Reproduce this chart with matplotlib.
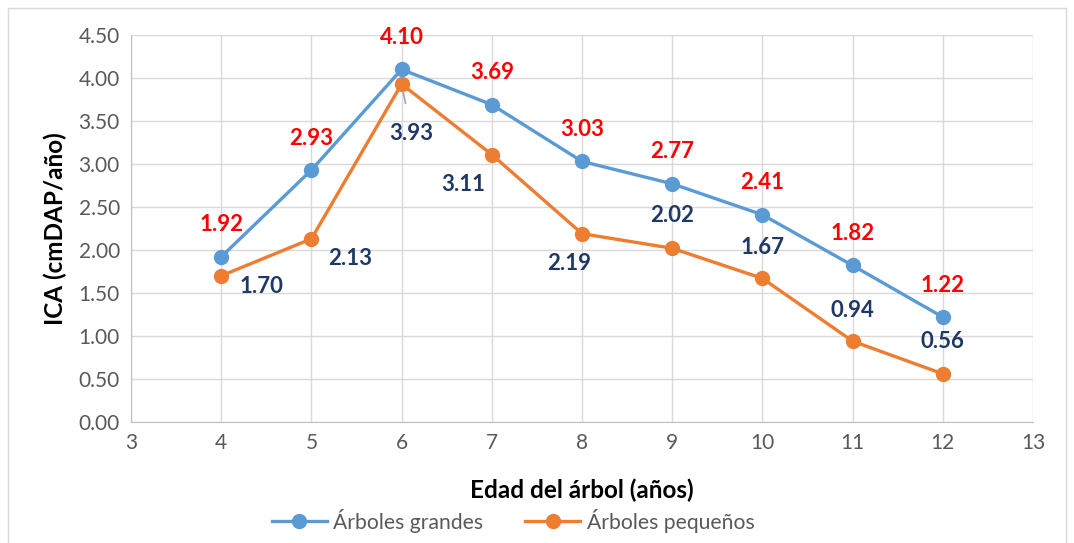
import matplotlib.pyplot as plt
from matplotlib.patches import Rectangle

# datos
edad = [4, 5, 6, 7, 8, 9, 10, 11, 12]
grandes = [1.92, 2.93, 4.10, 3.69, 3.03, 2.77, 2.41, 1.82, 1.22]
pequenos = [1.70, 2.13, 3.93, 3.11, 2.19, 2.02, 1.67, 0.94, 0.56]

# desplazamientos de las etiquetas (pixeles)
off_g = [(0, 32)] * 9
off_p = [(40, -11), (39, -20), (10, -49), (-29, -30), (-13, -30), (0, 33), (0, 31), (0, 31), (0, 32)]

plt.rcParams['font.family'] = ['Lato', 'DejaVu Sans']

fig = plt.figure(figsize=(10.74, 5.43), dpi=100)
ax = fig.add_axes([131/1074, 1 - 422/543, (1033 - 131)/1074, (422 - 35)/543])

ax.plot(edad, grandes, color='#5B9BD5', lw=2.4, marker='o', ms=10, label='Árboles grandes', zorder=3)
ax.plot(edad, pequenos, color='#ED7D31', lw=2.4, marker='o', ms=10, label='Árboles pequeños', zorder=3)

for x, y, o in zip(edad, grandes, off_g):
    ax.annotate(f'{y:.2f}', (x, y), xytext=o, textcoords='offset pixels',
                ha='center', va='center', color='#FF0000', fontsize=16, fontweight='bold')
for i, (x, y, o) in enumerate(zip(edad, pequenos, off_p)):
    props = None
    if i == 2:
        props = dict(arrowstyle='-', color='#A6A6A6', lw=1.2, shrinkA=12, shrinkB=6)
    ax.annotate(f'{y:.2f}', (x, y), xytext=o, textcoords='offset pixels',
                ha='center', va='center', color='#1F3864', fontsize=16, fontweight='bold',
                arrowprops=props)

ax.set_xlim(3, 13)
ax.set_ylim(0, 4.5)
ax.set_xticks(range(3, 14))
ax.set_yticks([i * 0.5 for i in range(10)])
ax.set_yticklabels([f'{i * 0.5:.2f}' for i in range(10)])
ax.grid(True, color='#D9D9D9', lw=1)
ax.set_axisbelow(True)
for s in ['top', 'right']:
    ax.spines[s].set_visible(False)
for s in ['left', 'bottom']:
    ax.spines[s].set_color('#BFBFBF')
ax.tick_params(length=0, labelsize=15, labelcolor='#595959', pad=8)

ax.set_xlabel('Edad del árbol (años)', fontsize=17.5, fontweight='bold', labelpad=18)
ax.set_ylabel('ICA (cmDAP/año)', fontsize=17.5, fontweight='bold', labelpad=8)

ax.legend(loc='center', bbox_to_anchor=(0.4235, -0.255), ncol=2, frameon=False,
          fontsize=15.2, labelcolor='#595959', handlelength=2.6, columnspacing=2.0,
          handletextpad=0.3)

fig.patches.append(Rectangle((8/1074, -0.02), (1066 - 8)/1074, 1 - 8/543 + 0.02,
                             transform=fig.transFigure, fill=False, ec='#D9D9D9', lw=1))

fig.savefig('out.png', dpi=100)
